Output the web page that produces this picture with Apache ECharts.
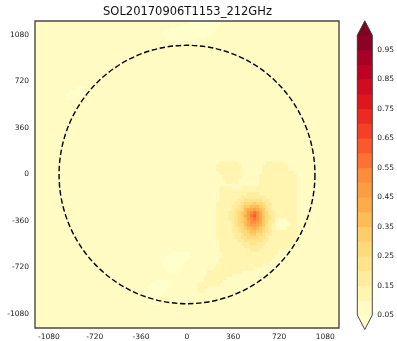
<!DOCTYPE html>
<html>
<head>
<meta charset="utf-8">
<script src="https://cdn.jsdelivr.net/npm/echarts@6/dist/echarts.min.js"></script>
<style>
  html, body { margin: 0; padding: 0; background: #ffffff; }
  #chart { width: 397px; height: 341px; }
</style>
</head>
<body>
<div id="chart"></div>
<script>
// ---- map description -------------------------------------------------------
const titleText = 'SOL20170906T1153_212GHz';
const axisExtent = 1188;                       // arcsec, half width of the field
const xTicks = [-1080, -720, -360, 0, 360, 720, 1080];
const yTicks = [-1080, -720, -360, 0, 360, 720, 1080];
const levels = [0.05, 0.10, 0.15, 0.20, 0.25, 0.30, 0.35, 0.40, 0.45, 0.50,
                0.55, 0.60, 0.65, 0.70, 0.75, 0.80, 0.85, 0.90, 0.95, 1.00];
const colorbarTicks = [0.05, 0.15, 0.25, 0.35, 0.45, 0.55, 0.65, 0.75, 0.85, 0.95];
const limbRadius = 1000;                       // arcsec
const cellSize = 24;                           // arcsec per map cell
const ambientBand = 1;                         // quiet-Sun level band (0.05-0.10)

// Map cells: each character is the level band of the normalised brightness
// (band k covers k*0.05 .. (k+1)*0.05; '0' is below 0.05, 'a' = 10, 'b' = 11 ...).
// x0 / y0 give the centre (arcsec) of the first cell of the first row.
const lowerLimbRows = [
  '1111111111000000',
  '1111111100000000',
  '1111111000000001',
  '1111111000000011',
  '1111111000000111',
  '1111111100000111',
  '1111111110001111',
  '1111111111111111',
  '1111111111111111',
  '1111100000111111',
  '1110000000111111',
  '1100000001111111',
  '1000000011111111',
  '1000000111111111',
  '1000001111111111',
  '1100001111111111',
  '1110001111111111'
];
const northRows = [
  '111111110000000000',
  '111110000000000000',
  '110000000000000001',
  '000000000000000011',
  '000000000000001111',
  '100000000011111111',
  '111000011111111111'
];
const eastRows = [
  '111000',
  '100000',
  '000001',
  '000111'
];
const activeRegionRows = [
  '111111122222211111111122222211111111',
  '111111222222221111111222222221111111',
  '111111222222221111111222222221111111',
  '111111122222221111111222222222211111',
  '111111112222221111112222222222221111',
  '111111112222211111112222222222221111',
  '111111111222211111112222222222221111',
  '111111111111111111112222222222221111',
  '111111122221112222222222222222221111',
  '111111122222222222222222222222221111',
  '111111122222222233332222222222221111',
  '111111122222223333333322222222221111',
  '111111122222233444444332222222221111',
  '111111222222334555655433222222221111',
  '111111222223345667776543222222221111',
  '111111222223445788987643222222221111',
  '11111122223345679aba8653322222221111',
  '11111122223345689bca8654322222221111',
  '11111122223345679aba8654311112221111',
  '11111122222345678aa98653310001221111',
  '111111222223455789987643210001221111',
  '111111222223345677876543210012221111',
  '111111222223345567766543222222221111',
  '111111222222334556655433222222221111',
  '111111222222334455554432222222221111',
  '111111122222233444444332222222221111',
  '111111122222223334433322222222111111',
  '111111122222222333333222222221111111',
  '111111122222222223332222221111111111',
  '111111112222222222222222221111111111',
  '111111112222222222222222211111111111',
  '111111122222222222222222111111111111',
  '111111122222222222222221111111111111',
  '111111222222222222222111111111111111',
  '111112222222222222111111111111111111',
  '111222222222221111111111111111111111',
  '111222222221111111111111111111111111',
  '112222222111111111111111111111111111',
  '112222221111111111111111111111111111',
  '221222211111111111111111111111111111',
  '222111111111111111111111111111111111',
  '221111111111111111111111111111111111'
];
const patches = [
  { x0: -348, y0: -612, rows: lowerLimbRows },
  { x0: -171, y0: 1170, rows: northRows },
  { x0: -930, y0: 666, rows: eastRows },
  { x0: 99, y0: 86, rows: activeRegionRows }
];

// ---- colours: matplotlib YlOrRd ------------------------------------------
const ylOrRd = ['#ffffcc', '#ffeda0', '#fed976', '#feb24c', '#fd8d3c',
                '#fc4e2a', '#e31a1c', '#bd0026', '#800026'];
function hexToRgb(h) {
  return [parseInt(h.slice(1, 3), 16), parseInt(h.slice(3, 5), 16), parseInt(h.slice(5, 7), 16)];
}
function cmap(t) {
  t = Math.max(0, Math.min(1, t));
  const s = t * (ylOrRd.length - 1);
  const i = Math.min(ylOrRd.length - 2, Math.floor(s));
  const f = s - i;
  const a = hexToRgb(ylOrRd[i]), b = hexToRgb(ylOrRd[i + 1]);
  const c = a.map((v, j) => Math.round(v + (b[j] - v) * f));
  return 'rgb(' + c.join(',') + ')';
}
const vMin = levels[0], vMax = levels[levels.length - 1];
const pieces = [{ lt: vMin, color: cmap(0) }];
for (let i = 0; i < levels.length - 1; i++) {
  const mid = (levels[i] + levels[i + 1]) / 2;
  pieces.push({ gte: levels[i], lt: levels[i + 1], color: cmap((mid - vMin) / (vMax - vMin)) });
}
pieces.push({ gte: vMax, color: cmap(1) });

// ---- data built from the arrays above -------------------------------------
const bandValue = k => (k + 0.5) * 0.05;
const mapCells = [];
patches.forEach(p => {
  p.rows.forEach((row, r) => {
    for (let c = 0; c < row.length; c++) {
      const k = parseInt(row[c], 36);
      if (k === ambientBand) continue;
      mapCells.push([p.x0 + c * cellSize, p.y0 - r * cellSize, bandValue(k)]);
    }
  });
});
const colorbarBands = [];
for (let i = 0; i < levels.length - 1; i++) {
  colorbarBands.push([levels[i], levels[i + 1], (levels[i] + levels[i + 1]) / 2]);
}
const colorbarExtends = [
  [vMin, -1, vMin / 2],
  [vMax, 1, vMax + 0.025]
];

const FONT = 'DejaVu Sans';
const EXT_PX = 14.5;
const chart = echarts.init(document.getElementById('chart'), null, { renderer: 'canvas' });

function cellItem(params, api) {
  const x = api.value(0), y = api.value(1), h = cellSize / 2;
  const p1 = api.coord([x - h, y + h]);
  const p2 = api.coord([x + h, y - h]);
  return {
    type: 'rect', silent: true,
    shape: { x: p1[0] - 0.3, y: p1[1] - 0.3, width: p2[0] - p1[0] + 0.6, height: p2[1] - p1[1] + 0.6 },
    style: { fill: api.visual('color') }
  };
}

const option = {
  animation: false,
  backgroundColor: '#ffffff',
  grid: [
    { left: 35, top: 21, width: 304, height: 308 },
    { left: 357.3, top: 35.3, width: 15, height: 279.7 }
  ],
  xAxis: [
    {
      gridIndex: 0, type: 'value', min: -axisExtent, max: axisExtent,
      axisLine: { show: false }, splitLine: { show: false },
      axisTick: { show: true, customValues: xTicks, length: 3.5, lineStyle: { color: '#333', width: 0.8 } },
      axisLabel: { customValues: xTicks, formatter: v => String(v), fontSize: 7.5, color: '#222', fontFamily: FONT, margin: 5 }
    },
    { gridIndex: 1, type: 'value', min: 0, max: 1, show: false }
  ],
  yAxis: [
    {
      gridIndex: 0, type: 'value', min: -axisExtent, max: axisExtent,
      axisLine: { show: false }, splitLine: { show: false },
      axisTick: { show: true, customValues: yTicks, length: 3.5, lineStyle: { color: '#333', width: 0.8 } },
      axisLabel: { customValues: yTicks, formatter: v => String(v), fontSize: 7.5, color: '#222', fontFamily: FONT, margin: 6 }
    },
    {
      gridIndex: 1, type: 'value', min: vMin, max: vMax, position: 'right',
      axisLine: { show: false }, splitLine: { show: false },
      axisTick: { show: true, customValues: colorbarTicks, length: 3.5, lineStyle: { color: '#333', width: 0.8 } },
      axisLabel: { customValues: colorbarTicks, formatter: v => v.toFixed(2), fontSize: 7.5, color: '#222', fontFamily: FONT, margin: 5 }
    }
  ],
  visualMap: {
    type: 'piecewise', show: false, dimension: 2,
    seriesIndex: [0, 1, 4, 5], pieces: pieces
  },
  graphic: [{
    type: 'text', x: 187.5, y: 12.5,
    style: { text: titleText, font: '11.5px "DejaVu Sans"', fill: '#111', textAlign: 'center', textVerticalAlign: 'middle' }
  }],
  series: [
    { // quiet-Sun level filling the field
      type: 'custom', xAxisIndex: 0, yAxisIndex: 0, clip: true,
      data: [[0, 0, bandValue(ambientBand)]],
      renderItem(params, api) {
        const p1 = api.coord([-axisExtent, axisExtent]);
        const p2 = api.coord([axisExtent, -axisExtent]);
        return { type: 'rect', silent: true,
          shape: { x: p1[0], y: p1[1], width: p2[0] - p1[0], height: p2[1] - p1[1] },
          style: { fill: api.visual('color') } };
      }
    },
    { // brightness map
      type: 'custom', xAxisIndex: 0, yAxisIndex: 0, clip: true,
      data: mapCells, renderItem: cellItem
    },
    { // solar limb
      type: 'custom', xAxisIndex: 0, yAxisIndex: 0, clip: true, z: 3,
      data: [[0, 0, limbRadius]],
      renderItem(params, api) {
        const c = api.coord([api.value(0), api.value(1)]);
        const s = api.size([api.value(2), api.value(2)]);
        return { type: 'circle', silent: true, x: c[0], y: c[1], scaleY: s[1] / s[0],
          shape: { cx: 0, cy: 0, r: s[0] },
          style: { fill: null, stroke: '#000', lineWidth: 1.4, lineDash: [5.5, 2.6] } };
      }
    },
    { // axes frame
      type: 'custom', xAxisIndex: 0, yAxisIndex: 0, clip: false, z: 4,
      data: [[0, 0]],
      renderItem(params, api) {
        const p1 = api.coord([-axisExtent, axisExtent]);
        const p2 = api.coord([axisExtent, -axisExtent]);
        return { type: 'rect', silent: true,
          shape: { x: p1[0], y: p1[1], width: p2[0] - p1[0], height: p2[1] - p1[1] },
          style: { fill: null, stroke: '#4a4a42', lineWidth: 1.4 } };
      }
    },
    { // colorbar bands
      type: 'custom', xAxisIndex: 1, yAxisIndex: 1, clip: false,
      data: colorbarBands,
      renderItem(params, api) {
        const p1 = api.coord([0, api.value(1)]);
        const p2 = api.coord([1, api.value(0)]);
        return { type: 'rect', silent: true,
          shape: { x: p1[0], y: p1[1] - 0.3, width: p2[0] - p1[0], height: p2[1] - p1[1] + 0.6 },
          style: { fill: api.visual('color') } };
      }
    },
    { // colorbar extension triangles
      type: 'custom', xAxisIndex: 1, yAxisIndex: 1, clip: false,
      data: colorbarExtends,
      renderItem(params, api) {
        const edge = api.value(0), dir = api.value(1);
        const a = api.coord([0, edge]), b = api.coord([1, edge]);
        const tip = [(a[0] + b[0]) / 2, a[1] - dir * EXT_PX];
        return { type: 'polygon', silent: true,
          shape: { points: [a, b, tip] }, style: { fill: api.visual('color') } };
      }
    },
    { // colorbar outline
      type: 'custom', xAxisIndex: 1, yAxisIndex: 1, clip: false, z: 4,
      data: [[0, 0]],
      renderItem(params, api) {
        const bl = api.coord([0, vMin]), br = api.coord([1, vMin]);
        const tl = api.coord([0, vMax]), tr = api.coord([1, vMax]);
        const cx = (bl[0] + br[0]) / 2;
        return { type: 'polygon', silent: true,
          shape: { points: [[cx, bl[1] + EXT_PX], bl, tl, [cx, tl[1] - EXT_PX], tr, br] },
          style: { fill: null, stroke: '#333', lineWidth: 0.9 } };
      }
    }
  ]
};
chart.setOption(option);
</script>
</body>
</html>
